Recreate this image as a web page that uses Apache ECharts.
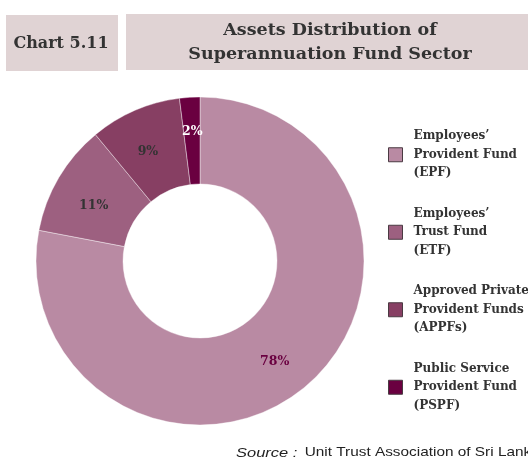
<!DOCTYPE html>
<html>
<head>
<meta charset="utf-8">
<script src="https://cdn.jsdelivr.net/npm/echarts@6/dist/echarts.min.js"></script>
<style>
  html, body { margin: 0; padding: 0; background: #ffffff; }
  #chart { width: 528px; height: 460px; }
</style>
</head>
<body>
<div id="chart"></div>
<script>
// Superannuation fund sector: share of total assets (%)
const funds = [
  'Employees\u2019\nProvident Fund\n(EPF)',
  'Employees\u2019\nTrust Fund\n(ETF)',
  'Approved Private\nProvident Funds\n(APPFs)',
  'Public Service\nProvident Fund\n(PSPF)'
];
const shares = [78, 11, 9, 2];
const sliceColors = ['#b98aa3', '#9d6080', '#873f63', '#6a0040'];
const labelColors = ['#6a0040', '#333333', '#333333', '#ffffff'];
// small nudges so the percentage labels sit where the layout wants them
const labelNudges = [[-4, 6], [0, 8], [-3, 4], [0, -6]];

const chartNo = 'Chart 5.11';
const chartTitle = 'Assets Distribution of\nSuperannuation Fund Sector';
const sourceLabel = 'Source :';
const sourceText = 'Unit Trust Association of Sri Lanka';

const serif = '"DejaVu Serif", serif';
const sans = '"Liberation Sans", Arial, sans-serif';
const headBg = '#e0d3d4';

const chart = echarts.init(document.getElementById('chart'), null, { renderer: 'canvas' });

chart.setOption({
  animation: false,
  backgroundColor: '#ffffff',
  graphic: [
    { type: 'rect', shape: { x: 6, y: 15, width: 112, height: 56 }, style: { fill: headBg } },
    { type: 'rect', shape: { x: 126, y: 14, width: 402, height: 56 }, style: { fill: headBg } },
    {
      type: 'text', x: 61, y: 44,
      style: {
        text: chartNo, fill: '#333333', font: 'bold 16px ' + serif,
        align: 'center', verticalAlign: 'middle'
      }
    },
    {
      type: 'text', x: 330, y: 42,
      style: {
        text: chartTitle, fill: '#333333', font: 'bold 17.5px ' + serif,
        align: 'center', verticalAlign: 'middle', lineHeight: 24
      }
    },
    {
      type: 'text', x: 236, y: 453, scaleX: 1.22,
      style: {
        text: '{i|' + sourceLabel + '}{g|}{r|' + sourceText + '}',
        verticalAlign: 'middle',
        rich: {
          i: { fontFamily: sans, fontStyle: 'italic', fontSize: 13.5, fill: '#222222' },
          g: { width: 6 },
          r: { fontFamily: sans, fontSize: 12.6, fill: '#222222' }
        }
      }
    }
  ],
  legend: {
    orient: 'vertical',
    left: 383,
    top: 122,
    itemWidth: 14,
    itemHeight: 14,
    itemGap: 22,
    icon: 'rect',
    itemStyle: { borderColor: '#4a3a42', borderWidth: 1 },
    selectedMode: false,
    textStyle: {
      fontFamily: serif,
      fontWeight: 'bold',
      fontSize: 12,
      lineHeight: 18.5,
      color: '#333333',
      padding: [0, 0, 0, 6]
    },
    data: funds
  },
  series: [{
    type: 'pie',
    center: [200, 261],
    radius: [77, 164],
    startAngle: 90,
    clockwise: true,
    avoidLabelOverlap: false,
    itemStyle: { borderColor: '#ffffff', borderWidth: 0.4 },
    label: {
      show: true,
      position: 'inside',
      formatter: '{c}%',
      fontFamily: serif,
      fontWeight: 'bold',
      fontSize: 12.5
    },
    labelLine: { show: false },
    emphasis: { disabled: true },
    data: funds.map((name, i) => ({
      name: name,
      value: shares[i],
      itemStyle: { color: sliceColors[i] },
      label: { color: labelColors[i], offset: labelNudges[i] }
    }))
  }]
});
</script>
</body>
</html>
